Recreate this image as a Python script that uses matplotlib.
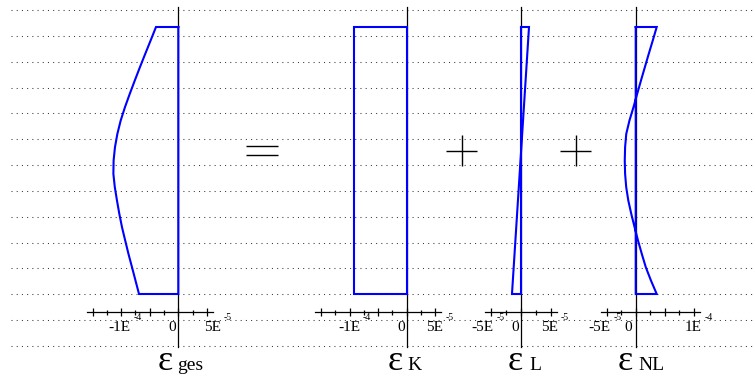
import numpy as np
import matplotlib
matplotlib.use("Agg")
import matplotlib.pyplot as plt
from matplotlib.ticker import FixedLocator

plt.rcParams["font.family"] = ["Liberation Serif", "DejaVu Serif"]

# Normalised depth through the cross-section: 0 = top fibre, 1 = bottom fibre
depth = [0.00, 0.05, 0.10, 0.15, 0.20, 0.25, 0.30, 0.35, 0.40, 0.45, 0.50,
         0.55, 0.60, 0.65, 0.70, 0.75, 0.80, 0.85, 0.90, 0.95, 1.00]

# Strain components, in units of 1E-5
eps_ges = [-3.90, -4.83, -5.77, -6.70, -7.60, -8.48, -9.32, -10.07, -10.65,
           -11.07, -11.31, -11.35, -11.10, -10.72, -10.31, -9.84, -9.28,
           -8.71, -8.09, -7.48, -6.87]
eps_K = -9.2                  # constant part
eps_L = [1.35, -1.52]         # linear part: top, bottom
eps_NL = [3.61, 2.94, 2.25, 1.58, 0.91, 0.26, -0.38, -1.07, -1.62, -1.82,
          -1.88, -1.82, -1.63, -1.27, -0.76, -0.19, 0.40, 1.05, 1.74, 2.63,
          3.61]

# Axis ranges (units of 1E-5) and labelled ticks: (value, mantissa, exponent)
ges_range, K_range, L_range, NL_range = (-15, 5), (-15, 5), (-5, 5), (-5, 10)
ges_labels = [(-10, "-1E", "-4"), (0, "0", ""), (5, "5E", "-5")]
K_labels = [(-10, "-1E", "-4"), (0, "0", ""), (5, "5E", "-5")]
L_labels = [(-5, "-5E", "-5"), (0, "0", ""), (5, "5E", "-5")]
NL_labels = [(-5, "-5E", "-5"), (0, "0", ""), (10, "1E", "-4")]
subscripts = ["ges", "K", "L", "NL"]

W, H = 755, 377
fig = plt.figure(figsize=(W / 100, H / 100), dpi=100)

TOP_PX, BOT_PX = 27.0, 294.0          # section edges on the page
AX_TOP_PX, AX_BOT_PX = 7.0, 347.0     # extent of the vertical axes
XAXIS_PX = 312.0                      # height of the strain axes
BLUE = "#0000ff"


def depth_at(y_px):
    return (y_px - TOP_PX) / (BOT_PX - TOP_PX)


def pt(v_px):
    return v_px * 72.0 / 100.0


# background: dotted rules and the operators between the diagrams
bg = fig.add_axes([0, 0, 1, 1])
bg.set_xlim(0, W)
bg.set_ylim(H, 0)
bg.axis("off")
bg.hlines(np.linspace(10, 346, 14), 11, 752, colors="#3a3a3a",
          linewidth=0.75, linestyles=(0, (1, 4)))
op = dict(color="black", lw=1.0, solid_capstyle="butt")
bg.plot([246, 278], [145.5, 145.5], **op)
bg.plot([246, 278], [155.0, 155.0], **op)
bg.plot([446, 477], [150.5, 150.5], **op)
bg.plot([461.5, 461.5], [135, 166], **op)
bg.plot([560, 591], [150.5, 150.5], **op)
bg.plot([575.5, 575.5], [135, 166], **op)

AX_DEPTH = depth_at(XAXIS_PX)


def make_panel(zero_px, scale, rng, labels, label_dx, sub, eps_dx, sub_dx):
    lo, hi = rng
    xmin, xmax = lo - 3, hi + 3
    left = zero_px + xmin * scale
    ax = fig.add_axes([left / W, 1 - AX_BOT_PX / H,
                       (xmax - xmin) * scale / W, (AX_BOT_PX - AX_TOP_PX) / H])
    ax.set_xlim(xmin, xmax)
    ax.set_ylim(depth_at(AX_BOT_PX), depth_at(AX_TOP_PX))
    ax.patch.set_visible(False)
    for s in ("top", "right"):
        ax.spines[s].set_visible(False)
    ax.spines["left"].set_position(("data", 0))
    ax.spines["bottom"].set_position(("data", AX_DEPTH))
    ax.spines["bottom"].set_bounds(lo - 1, hi + 1)
    for s in ("left", "bottom"):
        ax.spines[s].set_linewidth(0.9)
    ax.tick_params(axis="y", left=False, labelleft=False)
    ax.xaxis.set_major_locator(FixedLocator(np.arange(lo, hi + 0.1, 5)))
    ax.xaxis.set_minor_locator(FixedLocator(np.arange(lo, hi + 0.1, 2.5)))
    ax.tick_params(axis="x", which="major", direction="inout", length=6,
                   width=0.9, labelbottom=False)
    ax.tick_params(axis="x", which="minor", direction="inout", length=3.6,
                   width=0.9)

    for (val, main, exp), dx in zip(labels, label_dx):
        if exp:
            t = ax.annotate(main, xy=(val, AX_DEPTH), xytext=(pt(dx), pt(-19)),
                            textcoords="offset points", ha="center",
                            va="baseline", fontsize=11)
            ax.annotate(exp, xy=(1, AX_DEPTH), xycoords=(t, "data"),
                        xytext=(pt(3), pt(-8.5)), textcoords="offset points",
                        ha="left", va="baseline", fontsize=7)
        else:
            ax.annotate(main, xy=(val, AX_DEPTH), xytext=(pt(dx), pt(-19)),
                        textcoords="offset points", ha="right",
                        va="baseline", fontsize=11)

    ax.annotate("\u03b5", xy=(0, AX_DEPTH), xytext=(pt(eps_dx), pt(-58.5)),
                textcoords="offset points", ha="left", va="baseline",
                fontsize=26)
    ax.annotate(sub, xy=(0, AX_DEPTH), xytext=(pt(sub_dx), pt(-58.5)),
                textcoords="offset points", ha="left", va="baseline",
                fontsize=14)
    return ax


ax_ges = make_panel(178.3, 5.72, ges_range, ges_labels, [-2, -2.5, 5.5],
                    subscripts[0], -21, -1)
ax_K = make_panel(406.7, 5.72, K_range, K_labels, [-0.5, -2, -1],
                  subscripts[1], -19, 0.5)
ax_L = make_panel(521.0, 5.93, L_range, L_labels, [-8.5, -2, -1.5],
                  subscripts[2], -13, 8)
ax_NL = make_panel(635.7, 5.82, NL_range, NL_labels, [-7.5, -4, -1],
                   subscripts[3], -18, 2.5)

line = dict(color=BLUE, lw=1.5, solid_joinstyle="miter", zorder=3)

ax_ges.plot([0] + eps_ges + [0, 0],
            [depth[0]] + depth + [depth[-1], depth[0]], **line)
ax_K.plot([0, eps_K, eps_K, 0, 0],
          [depth[0], depth[0], depth[-1], depth[-1], depth[0]], **line)
ax_L.plot([0, eps_L[0], eps_L[1], 0, 0],
          [depth[0], depth[0], depth[-1], depth[-1], depth[0]], **line)
ax_NL.plot([0] + eps_NL + [0, 0],
           [depth[0]] + depth + [depth[-1], depth[0]], **line)

fig.savefig("out.png", dpi=100)
